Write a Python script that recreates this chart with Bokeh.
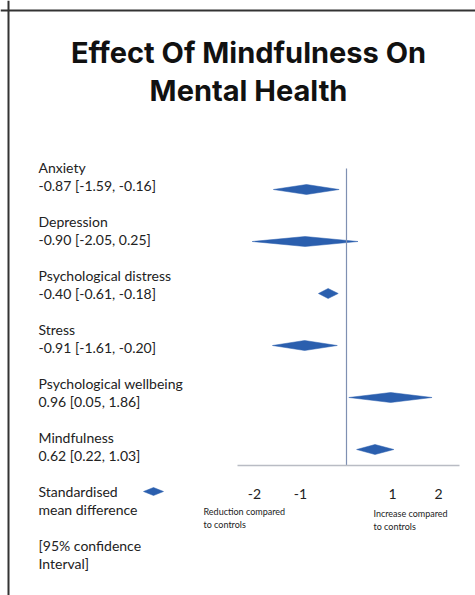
from bokeh.plotting import figure
from bokeh.models import Range1d, LinearAxis, FixedTicker, Span
from bokeh.core.properties import value
from bokeh.embed import file_html
from bokeh.resources import INLINE

# ---- data ----
outcomes = ["Anxiety", "Depression", "Psychological distress", "Stress",
            "Psychological wellbeing", "Mindfulness"]
smd = [-0.87, -0.90, -0.40, -0.91, 0.96, 0.62]
ci_low = [-1.59, -2.05, -0.61, -1.61, 0.05, 0.22]
ci_high = [-0.16, 0.25, -0.18, -0.20, 1.86, 1.03]
tick_values = [-2, -1, 1, 2]
tick_labels = ["-2", "-1", "1", "2"]

# ---- layout helpers ----
W, H = 475, 595
S = 46.0      # pixels per SMD unit
X0 = 346.0    # pixel position of zero

def dx(px):
    return (px - X0) / S

LABEL_FONT = "Lato"
BLUE = "#2b5fae"

p = figure(width=W, height=H, x_range=Range1d(dx(0), dx(W)), y_range=Range1d(H, 0),
           min_border=0, toolbar_location=None, output_backend="svg",
           x_axis_location=None, y_axis_location=None, outline_line_color=None)
for g in p.grid:
    g.visible = False

# card border (top and left edges visible)
p.add_layout(Span(location=10, dimension="width", line_color="#333333", line_width=2))
p.add_layout(Span(location=dx(8), dimension="height", line_color="#333333", line_width=2))

# title
p.text(x=[dx(248), dx(248)], y=[52, 90], text=["Effect Of Mindfulness On", "Mental Health"],
       text_align="center", text_baseline="middle", text_font=value("Inter"),
       text_font_style="bold", text_font_size="29px", text_color="#111111")

# row labels
n = len(outcomes)
name_y = [167 + 54 * i for i in range(n)]
val_y = [185 + 54 * i for i in range(n)]
val_text = ["%.2f [%.2f, %.2f]" % (m, lo, hi) for m, lo, hi in zip(smd, ci_low, ci_high)]
p.text(x=[dx(38)] * n, y=name_y, text=outcomes, text_align="left", text_baseline="middle",
       text_font=value(LABEL_FONT), text_font_size="14px", text_color="#222222")
p.text(x=[dx(38)] * n, y=val_y, text=val_text, text_align="left", text_baseline="middle",
       text_font=value(LABEL_FONT), text_font_size="14px", text_color="#222222")

# diamonds
row_y = [189 + 52 * i for i in range(n)]
h = 10
xs = [[lo, m, hi, m] for m, lo, hi in zip(smd, ci_low, ci_high)]
ys = [[y, y - h / 2, y, y + h / 2] for y in row_y]
p.patches(xs=xs, ys=ys, fill_color=BLUE, line_color=BLUE, line_width=0.5)

# zero line
p.segment(x0=[0], y0=[168], x1=[0], y1=[465], line_color="#7f90b2", line_width=1.2)

# x axis drawn inside the frame
ax = LinearAxis(ticker=FixedTicker(ticks=tick_values), fixed_location=465,
                bounds=(dx(237), dx(459)),
                axis_line_color="#b9bcc4", axis_line_width=1.5,
                major_tick_line_color=None, minor_tick_line_color=None,
                major_label_standoff=17,
                major_label_overrides={t: l for t, l in zip(tick_values, tick_labels)},
                major_label_text_font=LABEL_FONT, major_label_text_font_size="14px",
                major_label_text_color="#222222")
p.add_layout(ax, "below")

# direction notes
p.text(x=[dx(203), dx(203)], y=[511, 524], text=["Reduction compared", "to controls"],
       text_align="left", text_baseline="middle", text_font=value(LABEL_FONT),
       text_font_size="9px", text_color="#222222")
p.text(x=[dx(373), dx(373)], y=[513, 526], text=["Increase compared", "to controls"],
       text_align="left", text_baseline="middle", text_font=value(LABEL_FONT),
       text_font_size="9px", text_color="#222222")

# legend
p.text(x=[dx(38)] * 4, y=[491, 509, 545, 563],
       text=["Standardised", "mean difference", "[95% confidence", "Interval]"],
       text_align="left", text_baseline="middle", text_font=value(LABEL_FONT),
       text_font_size="14px", text_color="#222222")
p.patch(x=[dx(143), dx(153), dx(163), dx(153)], y=[491, 487, 491, 495],
        fill_color=BLUE, line_color=BLUE, line_width=0.5)

open("out.html", "w").write(file_html(p, INLINE))
